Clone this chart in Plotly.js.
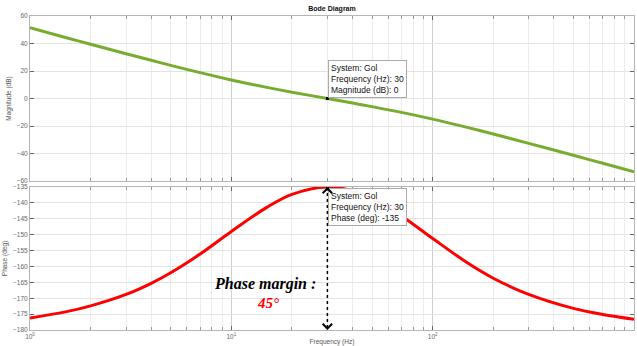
<!DOCTYPE html>
<html>
<head>
<meta charset="utf-8">
<script src="https://cdn.plot.ly/plotly-3.0.1.min.js"></script>
<style>html,body{margin:0;padding:0;background:#fff;}#chart{width:637px;height:346px;}</style>
</head>
<body>
<div id="chart"></div>
<script>
// Frequency samples (Hz)
const freq = [1, 1.5, 2, 3, 4, 5, 7, 10, 15, 20, 30, 40, 50, 70, 100, 150, 200, 300, 500, 700, 1000];
// Magnitude (dB)
const magDb = [51.5, 44.4, 39.5, 32.6, 27.8, 24.1, 18.8, 13.5, 8.1, 4.6, 0, -3.3, -5.9, -10.1, -15.0, -21.2, -25.8, -32.6, -41.3, -47.1, -53.3];
// Phase (deg)
const phaseDeg = [-176.2, -174.3, -172.4, -168.8, -165.3, -162.0, -156.1, -149.0, -141.4, -137.3, -135, -136.2, -138.6, -144.1, -151.2, -159.0, -163.7, -168.8, -173.2, -175.1, -176.6];

// Datatip / phase margin values
const tipFreq = 30;
const tipMag = 0;
const tipPhase = -135;
const phaseFloor = -180;
const phaseMarginLabel = '45°';

// Tick labels
const decadeVals = [1, 10, 100, 1000];
const decadeText = ['10<sup>0</sup>', '10<sup>1</sup>', '10<sup>2</sup>', '10<sup>3</sup>'];
const minorVals = [];
[1, 10, 100].forEach(d => { for (let k = 2; k <= 9; k++) minorVals.push(d * k); });

const traces = [
  { x: freq, y: magDb, xaxis: 'x', yaxis: 'y', mode: 'lines', line: { color: '#77AC30', width: 3, shape: 'spline' }, hoverinfo: 'skip' },
  { x: freq, y: phaseDeg, xaxis: 'x2', yaxis: 'y2', mode: 'lines', line: { color: '#FF0000', width: 3, shape: 'spline' }, hoverinfo: 'skip' },
  { x: [tipFreq, tipFreq], y: [tipPhase, phaseFloor], xaxis: 'x2', yaxis: 'y2', mode: 'lines', line: { color: '#000', width: 1.5, dash: 'dot' }, hoverinfo: 'skip' },
  { x: [tipFreq], y: [tipMag], xaxis: 'x', yaxis: 'y', mode: 'markers', marker: { color: '#000', size: 3, symbol: 'square' }, hoverinfo: 'skip' },
  { x: [tipFreq], y: [tipPhase], xaxis: 'x2', yaxis: 'y2', mode: 'markers', marker: { color: '#000', size: 3, symbol: 'square' }, hoverinfo: 'skip' }
];

const tickFont = { family: 'Arial, Liberation Sans, sans-serif', size: 6.5, color: '#666' };
function xAxis(anchor, labels) {
  return {
    type: 'log', range: [0, 3], domain: [0, 1], anchor: anchor,
    tickmode: 'array', tickvals: decadeVals, ticktext: labels ? decadeText : ['', '', '', ''],
    showticklabels: !!labels, tickfont: tickFont,
    ticks: 'inside', ticklen: 4, tickcolor: '#666', tickwidth: 1,
    showline: true, linecolor: '#b5b5b5', linewidth: 1, mirror: 'ticks',
    showgrid: true, gridcolor: '#cfcfcf', gridwidth: 1, zeroline: false,
    minor: { tickmode: 'array', tickvals: minorVals, ticks: 'inside', ticklen: 3, tickcolor: '#999', showgrid: true, gridcolor: '#ececec', gridwidth: 1 },
    fixedrange: true
  };
}
function yAxis(anchor, domain, range, dtick, title) {
  return {
    domain: domain, range: range, dtick: dtick, anchor: anchor,
    tickfont: tickFont, ticks: 'inside', ticklen: 4, tickcolor: '#666',
    showline: true, linecolor: '#b5b5b5', linewidth: 1, mirror: 'ticks',
    showgrid: true, gridcolor: '#e3e3e3', zeroline: false,
    title: { text: title, font: { family: 'Arial, Liberation Sans, sans-serif', size: 6.5, color: '#555' }, standoff: 4 },
    fixedrange: true
  };
}

const x2 = xAxis('y2', true);
x2.title = { text: 'Frequency (Hz)', font: { family: 'Arial, Liberation Sans, sans-serif', size: 6.5, color: '#555' }, standoff: 2 };

const layout = {
  width: 637, height: 346,
  margin: { l: 30, r: 3, t: 16, b: 16 },
  paper_bgcolor: '#fff', plot_bgcolor: '#fff',
  showlegend: false,
  title: { text: '<b>Bode Diagram</b>', font: { family: 'Arial, Liberation Sans, sans-serif', size: 7, color: '#111' }, x: 0.5, xref: 'paper', y: 1 - 9 / 346, yref: 'container', yanchor: 'middle' },
  xaxis: xAxis('y', false),
  yaxis: yAxis('x', [0.4745, 1], [-60, 60], 20, 'Magnitude (dB)'),
  xaxis2: x2,
  yaxis2: yAxis('x2', [0, 0.4554], [-180, -135], 5, 'Phase (deg)'),
  annotations: [
    { xref: 'x', yref: 'y', x: Math.log10(tipFreq), y: tipMag, xanchor: 'left', yanchor: 'bottom', xshift: 1, yshift: 1, showarrow: false, align: 'left',
      text: 'System: Gol<br>Frequency (Hz): ' + tipFreq + '<br>Magnitude (dB): ' + tipMag,
      font: { family: 'Arial, Liberation Sans, sans-serif', size: 8.5, color: '#111' }, bgcolor: 'rgba(255,255,255,0.95)', bordercolor: '#aaa', borderwidth: 1, borderpad: 2 },
    { xref: 'x2', yref: 'y2', x: Math.log10(tipFreq), y: tipPhase, xanchor: 'left', yanchor: 'top', xshift: 1, yshift: -1, showarrow: false, align: 'left',
      text: 'System: Gol<br>Frequency (Hz): ' + tipFreq + '<br>Phase (deg): ' + tipPhase,
      font: { family: 'Arial, Liberation Sans, sans-serif', size: 8.5, color: '#111' }, bgcolor: 'rgba(255,255,255,0.95)', bordercolor: '#aaa', borderwidth: 1, borderpad: 2 },
    { xref: 'x2', yref: 'y2', x: Math.log10(tipFreq), y: tipPhase, ax: 0, ay: 5, text: '', showarrow: true, arrowhead: 4, arrowsize: 1.4, arrowwidth: 1.3, arrowcolor: '#000' },
    { xref: 'x2', yref: 'y2', x: Math.log10(tipFreq), y: phaseFloor, ax: 0, ay: -5, text: '', showarrow: true, arrowhead: 4, arrowsize: 1.4, arrowwidth: 1.3, arrowcolor: '#000' },
    { xref: 'x2', yref: 'y2', x: 1.167, y: -165.5, showarrow: false, text: '<b><i>Phase margin :</i></b>',
      font: { family: 'Liberation Serif, Times New Roman, serif', size: 16, color: '#000' } },
    { xref: 'x2', yref: 'y2', x: 1.18, y: -171.5, showarrow: false, text: '<b><i>' + phaseMarginLabel + '</i></b>',
      font: { family: 'Liberation Serif, Times New Roman, serif', size: 15, color: '#FF0000' } }
  ]
};

Plotly.newPlot('chart', traces, layout, { displayModeBar: false, staticPlot: true });
</script>
</body>
</html>
